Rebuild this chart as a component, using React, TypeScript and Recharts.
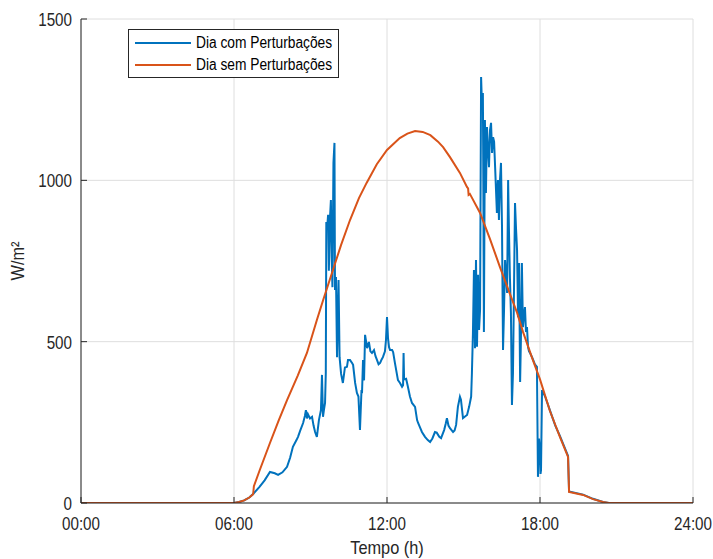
import { LineChart, Line, XAxis, YAxis, CartesianGrid } from "recharts";

// [hora, W/m²]
const diaSemPerturbacoes: [number, number][] = [
  [0, 0], [6.0, 0], [6.2, 3], [6.4, 8], [6.6, 17], [6.75, 27], [6.78, 52],
  [7.0, 100], [7.41, 186], [7.75, 255], [8.08, 319], [8.5, 395], [8.86, 465],
  [9.25, 567], [9.5, 630], [9.88, 722], [10.2, 800], [10.55, 877], [10.9, 945],
  [11.2, 992], [11.6, 1050], [12.0, 1094], [12.5, 1131], [12.8, 1145],
  [13.1, 1153], [13.4, 1150], [13.7, 1140], [14.0, 1120], [14.2, 1103],
  [14.47, 1072], [14.86, 1023], [15.14, 979], [15.18, 975], [15.2, 955],
  [15.25, 958], [15.65, 899], [16.04, 818], [16.43, 731], [16.82, 648],
  [17.1, 590], [17.33, 531], [17.69, 450], [18.0, 383], [18.39, 285],
  [18.78, 205], [19.1, 143], [19.14, 34], [19.69, 25], [20.08, 12],
  [20.47, 3], [20.7, 0], [24, 0],
];

const diaComPerturbacoes: [number, number][] = [
  [0, 0], [6.0, 0], [6.2, 3], [6.4, 8], [6.6, 17], [6.75, 28], [7.0, 50],
  [7.2, 70], [7.41, 96], [7.6, 92], [7.73, 87], [7.9, 95], [8.08, 112],
  [8.2, 140], [8.31, 174], [8.45, 195], [8.51, 205], [8.6, 225], [8.71, 248],
  [8.78, 270], [8.82, 288], [8.86, 262], [8.9, 275], [8.98, 262], [9.06, 267],
  [9.12, 240], [9.18, 220], [9.25, 205], [9.33, 257], [9.41, 288], [9.45, 397],
  [9.49, 267], [9.53, 290], [9.57, 310], [9.6, 403], [9.62, 871], [9.66, 860],
  [9.69, 893], [9.72, 720], [9.76, 877], [9.8, 939], [9.83, 762], [9.86, 669],
  [9.9, 1054], [9.94, 1116], [9.96, 660], [10.0, 700], [10.04, 452],
  [10.1, 691], [10.14, 452], [10.2, 400], [10.27, 372], [10.35, 420],
  [10.43, 422], [10.47, 443], [10.55, 443], [10.63, 434], [10.67, 428],
  [10.75, 372], [10.82, 341], [10.88, 330], [10.94, 226], [11.0, 350],
  [11.02, 340], [11.06, 443], [11.1, 380], [11.14, 521], [11.22, 480],
  [11.29, 499], [11.35, 470], [11.41, 465], [11.49, 474], [11.55, 455],
  [11.61, 443], [11.67, 430], [11.73, 434], [11.79, 445], [11.84, 452],
  [11.92, 470], [11.96, 505], [12.0, 576], [12.04, 510], [12.08, 483],
  [12.12, 474], [12.2, 474], [12.24, 468], [12.31, 434], [12.43, 381],
  [12.51, 372], [12.59, 360], [12.63, 365], [12.65, 465], [12.67, 383],
  [12.75, 385], [12.82, 360], [12.9, 330], [12.98, 310], [13.1, 298],
  [13.18, 257], [13.22, 248], [13.29, 235], [13.37, 220], [13.49, 205],
  [13.6, 195], [13.69, 189], [13.78, 200], [13.88, 220], [13.95, 218],
  [14.05, 205], [14.12, 201], [14.24, 226], [14.3, 245], [14.35, 263],
  [14.41, 240], [14.47, 232], [14.59, 220], [14.65, 225], [14.71, 242],
  [14.78, 298], [14.86, 329], [14.9, 320], [14.98, 263], [15.06, 268],
  [15.14, 273], [15.22, 298], [15.3, 330], [15.33, 403], [15.37, 527],
  [15.41, 722], [15.45, 480], [15.49, 753], [15.53, 484], [15.57, 707],
  [15.61, 536], [15.65, 600], [15.69, 1320], [15.73, 1218], [15.76, 1271],
  [15.78, 955], [15.8, 530], [15.84, 1187], [15.88, 961], [15.92, 1165],
  [15.96, 1100], [16.0, 1041], [16.04, 1156], [16.08, 1178], [16.12, 1085],
  [16.16, 1134], [16.2, 1120], [16.24, 1041], [16.31, 899], [16.35, 1001],
  [16.39, 877], [16.43, 1000], [16.47, 1054], [16.51, 855], [16.55, 474],
  [16.59, 600], [16.63, 753], [16.67, 700], [16.71, 651], [16.75, 1001],
  [16.78, 855], [16.82, 700], [16.86, 589], [16.9, 304], [16.94, 403],
  [16.98, 660], [17.02, 930], [17.06, 850], [17.1, 784], [17.14, 576],
  [17.18, 744], [17.22, 375], [17.25, 500], [17.29, 744], [17.33, 545],
  [17.37, 580], [17.41, 607], [17.45, 530], [17.49, 545], [17.53, 484],
  [17.57, 470], [17.61, 465], [17.7, 450], [17.8, 430], [17.88, 422],
  [17.92, 81], [17.96, 200], [18.0, 164], [18.02, 90], [18.04, 102],
  [18.08, 350], [18.2, 330], [18.39, 287], [18.6, 240], [18.78, 208],
  [19.1, 146], [19.14, 36], [19.69, 26], [20.08, 13], [20.47, 3], [20.7, 0],
  [24, 0],
];

const xTicks = [0, 6, 12, 18, 24];
const xTickLabels = ["00:00", "06:00", "12:00", "18:00", "24:00"];
const yTicks = [0, 500, 1000, 1500];

const BLUE = "#0072BD";
const ORANGE = "#D95319";
const AXIS = "#262626";
const FONT = '"Liberation Sans", Arial, sans-serif';
const SQUEEZE = 0.8; // fonte estreita do original

const toRows = (pairs: [number, number][]) => pairs.map(([h, v]) => ({ h, v }));

function XTick({ x, y, payload }: any) {
  const label = xTickLabels[xTicks.indexOf(payload.value)] ?? "";
  return (
    <g transform={`translate(${x},${y}) scale(${SQUEEZE},1)`}>
      <text x={0} y={0} dy="0.71em" textAnchor="middle" fontSize={19} fill={AXIS} fontFamily={FONT}>
        {label}
      </text>
    </g>
  );
}

function YTick({ x, y, payload }: any) {
  return (
    <g transform={`translate(${x},${y}) scale(${SQUEEZE},1)`}>
      <text x={0} y={0} dy="0.36em" textAnchor="end" fontSize={19} fill={AXIS} fontFamily={FONT}>
        {payload.value}
      </text>
    </g>
  );
}

export default function App() {
  return (
    <div style={{ position: "absolute", left: 0, top: 0, width: 713, height: 559, background: "#fff", fontFamily: FONT }}>
      <LineChart width={713} height={559} margin={{ top: 19, right: 20, left: 21, bottom: 26 }}>
        <CartesianGrid stroke="#dedede" strokeWidth={1} />
        <XAxis
          dataKey="h"
          type="number"
          domain={[0, 24]}
          ticks={xTicks}
          allowDataOverflow
          tick={<XTick />}
          tickSize={-6}
          tickMargin={20}
          height={30}
          stroke={AXIS}
        />
        <XAxis
          xAxisId="top"
          orientation="top"
          type="number"
          domain={[0, 24]}
          ticks={xTicks}
          tick={() => <g />}
          tickSize={-6}
          height={0}
          stroke={AXIS}
        />
        <YAxis
          type="number"
          domain={[0, 1500]}
          ticks={yTicks}
          allowDataOverflow
          tick={<YTick />}
          tickSize={-6}
          tickMargin={15}
          width={60}
          stroke={AXIS}
        />
        <YAxis
          yAxisId="right"
          orientation="right"
          type="number"
          domain={[0, 1500]}
          ticks={yTicks}
          tick={() => <g />}
          tickSize={-6}
          width={0}
          stroke={AXIS}
        />
        <Line
          data={toRows(diaComPerturbacoes)}
          dataKey="v"
          name="Dia com Perturbações"
          stroke={BLUE}
          strokeWidth={2}
          dot={false}
          type="linear"
          isAnimationActive={false}
        />
        <Line
          data={toRows(diaSemPerturbacoes)}
          dataKey="v"
          name="Dia sem Perturbações"
          stroke={ORANGE}
          strokeWidth={2}
          dot={false}
          type="linear"
          isAnimationActive={false}
        />
      </LineChart>

      {/* legenda */}
      <div
        style={{
          position: "absolute",
          left: 128,
          top: 29,
          width: 209,
          height: 47,
          border: "1px solid #262626",
          background: "#fff",
          color: "#000",
        }}
      >
        {[
          { label: "Dia com Perturbações", color: BLUE, y: 13 },
          { label: "Dia sem Perturbações", color: ORANGE, y: 35 },
        ].map((it) => (
          <div key={it.label} style={{ position: "absolute", left: 6, top: it.y - 10, height: 20, display: "flex", alignItems: "center", whiteSpace: "nowrap" }}>
            <span style={{ display: "inline-block", width: 56, height: 2, background: it.color, marginRight: 5 }} />
            <span style={{ display: "inline-block", fontSize: 16, transform: "scaleX(0.86)", transformOrigin: "left center" }}>{it.label}</span>
          </div>
        ))}
      </div>

      {/* títulos dos eixos */}
      <div style={{ position: "absolute", left: 287, width: 200, top: 537, textAlign: "center", fontSize: 19, color: AXIS, lineHeight: "22px", transform: "scaleX(0.86)" }}>
        Tempo (h)
      </div>
      <div
        style={{
          position: "absolute",
          left: 18,
          top: 261,
          transform: "translate(-50%, -50%) rotate(-90deg) scaleX(0.86)",
          fontSize: 19,
          color: AXIS,
          whiteSpace: "nowrap",
          lineHeight: "22px",
        }}
      >
        W/m²
      </div>
    </div>
  );
}
